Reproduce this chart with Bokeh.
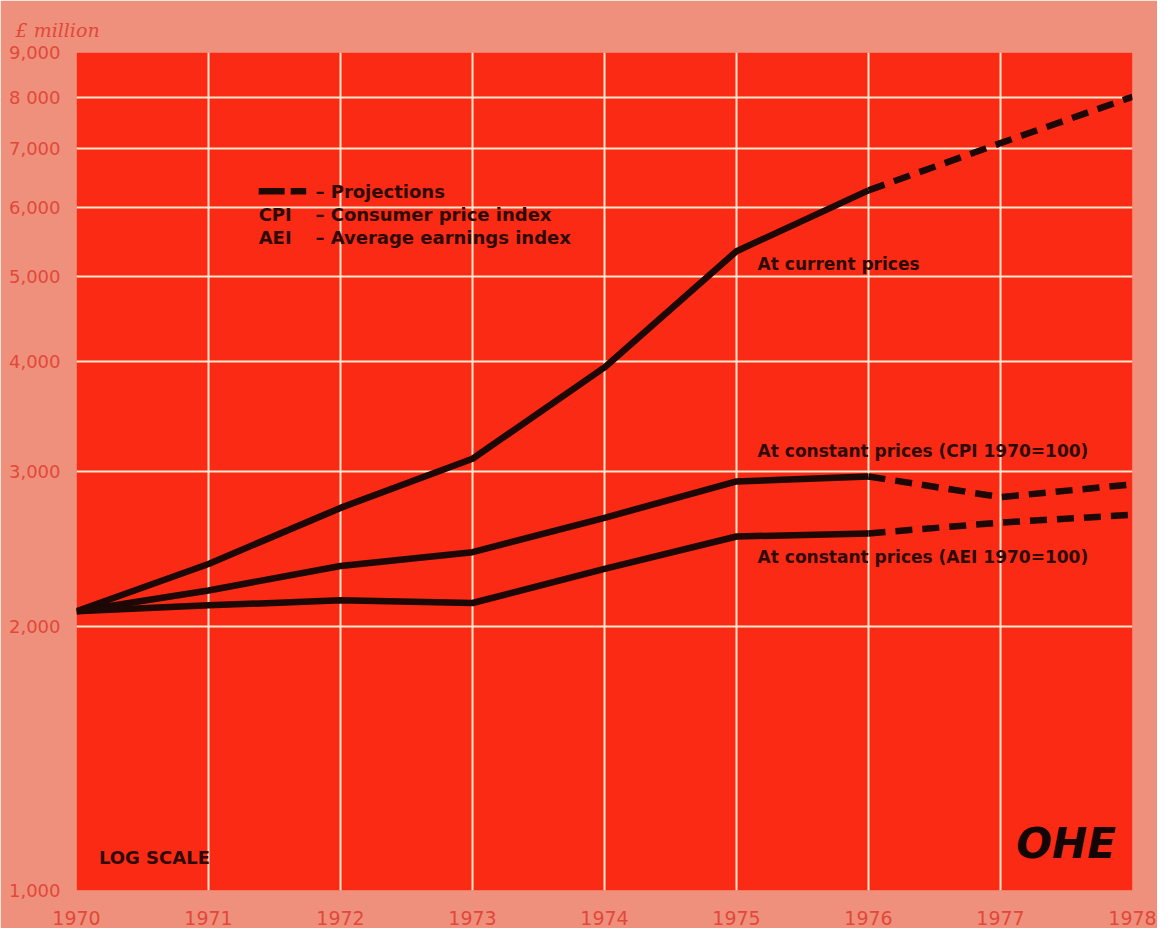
from bokeh.plotting import figure
from bokeh.models import Range1d, FixedTicker, Label
from bokeh.embed import file_html
from bokeh.resources import INLINE

# ---- data ----
years = [1970, 1971, 1972, 1973, 1974, 1975, 1976]
proj_years = [1976, 1977, 1978]
current = [2080, 2354, 2727, 3102, 3941, 5345, 6270]
current_proj = [6270, 7096, 8013]
cpi_const = [2080, 2196, 2342, 2428, 2657, 2923, 2961]
cpi_proj = [2961, 2805, 2901]
aei_const = [2080, 2112, 2140, 2125, 2324, 2530, 2550]
aei_proj = [2550, 2624, 2678]

y_ticks = [1000, 2000, 3000, 4000, 5000, 6000, 7000, 8000, 9000]
y_tick_labels = ["1,000", "2,000", "3,000", "4,000", "5,000", "6,000", "7,000", "8 000", "9,000"]
x_ticks = [1970, 1971, 1972, 1973, 1974, 1975, 1976, 1977, 1978]
x_tick_labels = [str(v) for v in x_ticks]

OUTER = "#EF907C"
PLOT = "#FA2A14"
GRID = "#FFE6CC"
LABEL_RED = "#E2483A"
DARK = "#1E0806"
TXT = "#2E0A06"
SANS = "DejaVu Sans"

p = figure(width=1157, height=928, y_axis_type="log",
           x_range=Range1d(1970, 1978), y_range=Range1d(1000, 9000),
           output_backend="svg", toolbar_location=None,
           min_border_left=76, min_border_right=25, min_border_top=52, min_border_bottom=38)
p.background_fill_color = PLOT
p.border_fill_color = OUTER
p.outline_line_color = None

p.title.text = "£ million"
p.title.text_font = "DejaVu Serif"
p.title.text_font_style = "italic"
p.title.text_font_size = "19px"
p.title.text_color = LABEL_RED
p.title.align = "left"
p.title.offset = -61
p.title.standoff = 24

p.xaxis.ticker = FixedTicker(ticks=x_ticks)
p.xaxis.major_label_overrides = {t: l for t, l in zip(x_ticks, x_tick_labels)}
p.yaxis.ticker = FixedTicker(ticks=y_ticks)
p.yaxis.major_label_overrides = {t: l for t, l in zip(y_ticks, y_tick_labels)}
for ax in (p.xaxis, p.yaxis):
    ax.axis_line_color = None
    ax.major_tick_line_color = None
    ax.minor_tick_line_color = None
    ax.major_label_text_color = LABEL_RED
    ax.major_label_text_font = SANS
    ax.major_label_text_font_size = "18px"
p.xaxis.major_label_text_font_size = "19px"
p.yaxis.major_label_standoff = 10
p.xaxis.major_label_standoff = 14

p.xgrid.grid_line_color = GRID
p.xgrid.grid_line_width = 2
p.ygrid.grid_line_color = GRID
p.ygrid.grid_line_width = 2
p.ygrid.minor_grid_line_color = None

LW = 6.5
p.line(years, current, line_color=DARK, line_width=LW)
p.line(years, cpi_const, line_color=DARK, line_width=LW)
p.line(years, aei_const, line_color=DARK, line_width=LW)
for ys in (current_proj, cpi_proj, aei_proj):
    p.line(proj_years, ys, line_color=DARK, line_width=LW, line_dash="17 10")

# legend sample
p.line([1971.38, 1971.74], [6255, 6255], line_color=DARK, line_width=LW, line_dash="26 6")

def lab(x, y, t, size="17px", style="bold", font=SANS, color=TXT):
    p.add_layout(Label(x=x, y=y, text=t, text_font=font, text_font_size=size,
                       text_font_style=style, text_color=color, text_baseline="middle"))

lab(1971.81, 6255, "– Projections", size="18px")
lab(1971.38, 5879, "CPI", size="18px")
lab(1971.81, 5879, "– Consumer price index", size="18px")
lab(1971.38, 5541, "AEI", size="18px")
lab(1971.81, 5541, "– Average earnings index", size="18px")

lab(1975.16, 5168, "At current prices")
lab(1975.16, 3167, "At constant prices (CPI 1970=100)")
lab(1975.16, 2397, "At constant prices (AEI 1970=100)")
lab(1970.17, 1089, "LOG SCALE", size="18px")
lab(1977.12, 1130, "OHE", size="42px", style="bold italic", color="#150505")

open("out.html", "w").write(file_html(p, INLINE))
